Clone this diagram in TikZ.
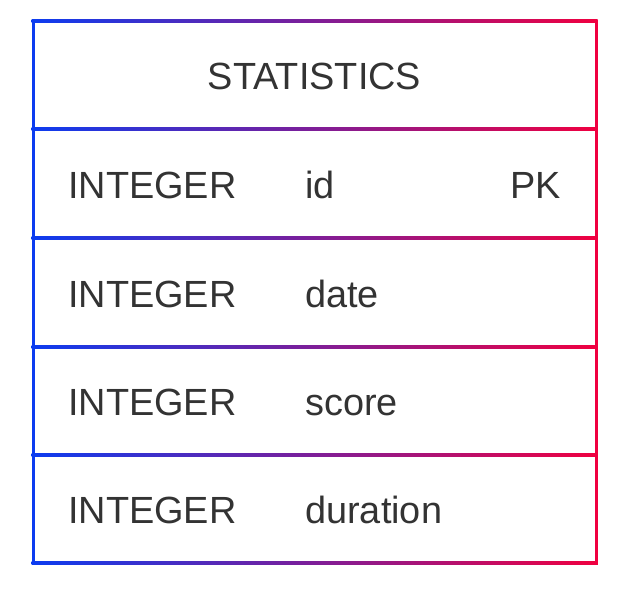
\documentclass[tikz,border=0pt]{standalone}
\usepackage{fontspec}
\setmainfont{Liberation Sans}
\definecolor{cblue}{RGB}{12,60,240}
\definecolor{cred}{RGB}{240,0,64}
\definecolor{ctext}{RGB}{51,51,51}
\begin{document}
\begin{tikzpicture}[x=0.75pt,y=-0.75pt,
  lbl/.style={inner sep=0pt,text=ctext,font=\fontsize{28.4}{34}\selectfont}]
\useasboundingbox (0,0) rectangle (631,590);
% horizontal separators (gradient)
\foreach \yy in {21,129,238,347,455,563}{
  \shade[left color=cblue,right color=cred] (31.5,\yy-1.5) rectangle (597.5,\yy+1.5);
}
% vertical borders
\fill[cblue] (31.5,19.5) rectangle (34.5,564.5);
\fill[cred] (594.5,19.5) rectangle (597.5,564.5);
% header
\node[lbl,anchor=base] (title) at (314.5,89.5) {STATISTICS};
% rows
\node[lbl,anchor=base west] (t1) at (68,198) {INTEGER};
\node[lbl,anchor=base west] (n1) at (305,198) {id};
\node[lbl,anchor=base east] (k1) at (561,198) {PK};
\node[lbl,anchor=base west] (t2) at (68,307) {INTEGER};
\node[lbl,anchor=base west] (n2) at (305,307) {date};
\node[lbl,anchor=base west] (t3) at (68,415.5) {INTEGER};
\node[lbl,anchor=base west] (n3) at (305,415.5) {score};
\node[lbl,anchor=base west] (t4) at (68,523.5) {INTEGER};
\node[lbl,anchor=base west] (n4) at (305,523.5) {duration};
\end{tikzpicture}
\end{document}
